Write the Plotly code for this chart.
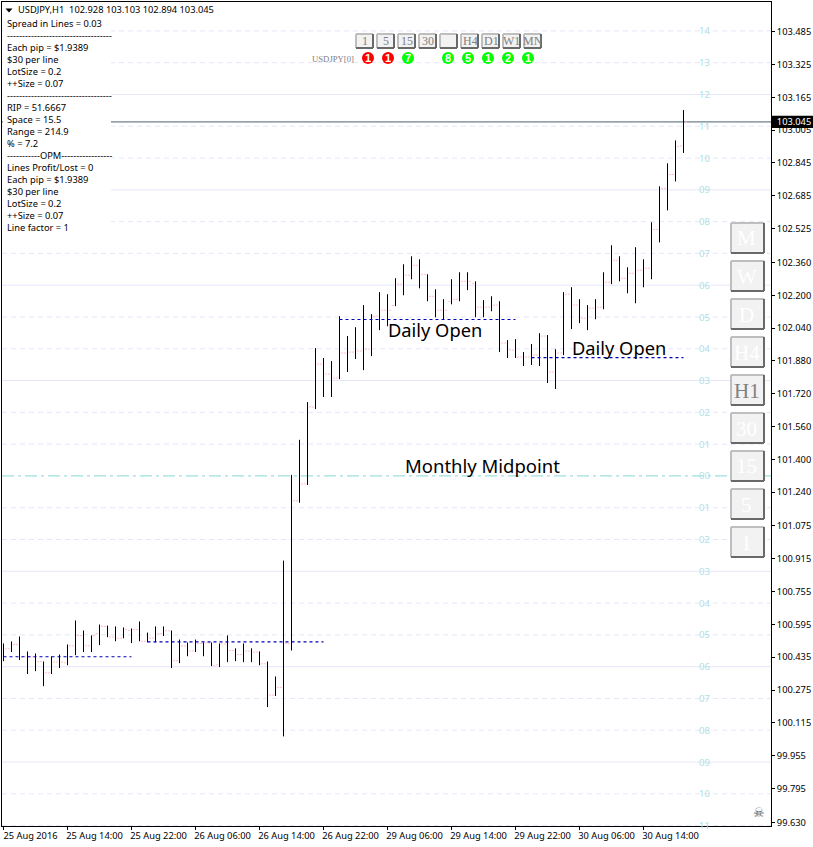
import plotly.graph_objects as go

SYMBOL = "USDJPY,H1"
opens = [100.440,100.476,100.497,100.437,100.437,100.414,100.359,100.411,100.408,100.491,
100.541,100.491,100.551,100.585,100.533,100.528,100.565,100.570,100.513,100.529,
100.549,100.564,100.418,100.491,100.466,100.502,100.505,100.398,100.500,100.468,
100.448,100.465,100.460,100.403,100.250,100.288,100.502,101.198,101.280,101.655,
101.864,101.816,101.796,101.918,101.923,101.928,101.937,102.098,102.127,102.150,
102.254,102.298,102.346,102.302,102.195,102.127,102.170,102.181,102.268,102.258,
102.142,102.142,102.152,101.967,101.933,101.899,101.899,101.908,102.001,101.826,
101.918,102.205,102.152,102.088,102.137,102.142,102.263,102.371,102.283,102.307,
102.322,102.332,102.521,102.721,102.789,102.928]
highs = [100.502,100.512,100.536,100.463,100.453,100.414,100.439,100.448,100.497,100.614,
100.565,100.541,100.594,100.589,100.585,100.580,100.575,100.609,100.555,100.585,
100.585,100.565,100.521,100.507,100.521,100.507,100.507,100.502,100.541,100.478,
100.502,100.478,100.463,100.414,100.341,100.906,101.324,101.495,101.679,101.942,
101.894,101.879,102.098,102.001,102.044,102.152,102.108,102.215,102.205,102.283,
102.351,102.390,102.375,102.302,102.229,102.181,102.278,102.312,102.312,102.268,
102.176,102.195,102.171,101.981,101.986,101.923,101.962,102.015,102.006,101.937,
102.215,102.239,102.181,102.152,102.181,102.312,102.444,102.390,102.336,102.434,
102.375,102.556,102.731,102.843,102.955,103.103]
lows = [100.416,100.460,100.421,100.353,100.367,100.294,100.353,100.382,100.396,100.445,
100.460,100.460,100.494,100.533,100.513,100.528,100.504,100.513,100.508,100.508,
100.538,100.382,100.406,100.440,100.460,100.440,100.392,100.387,100.411,100.416,
100.411,100.411,100.396,100.192,100.246,100.049,100.468,101.188,101.275,101.645,
101.704,101.704,101.791,101.826,101.889,101.835,101.903,102.030,102.049,102.147,
102.200,102.278,102.234,102.171,102.093,102.083,102.156,102.171,102.225,102.093,
102.093,102.122,101.923,101.894,101.894,101.855,101.860,101.855,101.772,101.743,
101.908,102.035,102.064,102.030,102.083,102.132,102.254,102.268,102.210,102.161,
102.239,102.278,102.458,102.614,102.755,102.894]
closes = [100.476,100.497,100.437,100.437,100.414,100.359,100.411,100.411,100.491,100.541,
100.491,100.541,100.585,100.533,100.528,100.570,100.570,100.513,100.529,100.549,
100.564,100.418,100.491,100.466,100.502,100.505,100.392,100.500,100.468,100.448,
100.465,100.460,100.403,100.250,100.288,100.502,101.198,101.280,101.655,101.864,
101.816,101.796,101.918,101.923,101.928,101.937,102.098,102.127,102.127,102.254,
102.298,102.346,102.302,102.195,102.127,102.127,102.181,102.268,102.268,102.142,
102.142,102.152,101.967,101.933,101.899,101.899,101.908,102.001,101.826,101.918,
102.205,102.152,102.088,102.137,102.142,102.263,102.371,102.283,102.307,102.322,
102.332,102.521,102.721,102.789,102.925,103.045]

x_tick_idx = [0, 8, 16, 24, 32, 40, 48, 56, 64, 72, 80]
x_tick_text = ["25 Aug 2016","25 Aug 14:00","25 Aug 22:00","26 Aug 06:00","26 Aug 14:00",
               "26 Aug 22:00","29 Aug 06:00","29 Aug 14:00","29 Aug 22:00","30 Aug 06:00","30 Aug 14:00"]
y_ticks = ["103.485","103.325","103.165","103.005","102.845","102.685","102.525","102.360",
           "102.200","102.040","101.880","101.720","101.560","101.400","101.240","101.075",
           "100.915","100.755","100.595","100.435","100.275","100.115","99.955","99.795","99.630"]
last_price_label = "103.045"

level_names = ["14","13","12","11","10","09","08","07","06","05","04","03","02","01","00",
               "01","02","03","04","05","06","07","08","09","10","11"]
level_prices = [103.489,103.334,103.179,103.024,102.869,102.714,102.559,102.404,102.249,102.094,
                101.939,101.784,101.629,101.474,101.319,101.164,101.009,100.854,100.699,100.544,
                100.389,100.234,100.079,99.924,99.769,99.614]
level_solid = ["12","09","06","03"]

open_idx_start = [0, 18, 42, 66]
open_idx_end = [16, 40, 64, 85]
open_prices = [100.437, 100.510, 102.082, 101.896]

info_lines = ["Spread in Lines = 0.03","-----------------------------------","Each pip = $1.9389","$30 per line",
              "LotSize = 0.2","++Size = 0.07","-----------------------------------","RIP = 51.6667","Space = 15.5",
              "Range = 214.9","% = 7.2","-----------OPM-----------------","Lines Profit/Lost = 0","Each pip = $1.9389",
              "$30 per line","LotSize = 0.2","++Size = 0.07","Line factor = 1"]
top_buttons = ["1","5","15","30","","H4","D1","W1","MN"]
signal_vals = ["1","1","7","","8","5","1","2","1"]
signal_cols = ["#FF0000","#FF0000","#00FF00","","#00FF00","#00FF00","#00FF00","#00FF00","#00FF00"]
side_buttons = ["M","W","D","H4","H1","30","15","5","1"]

W, H = 813, 847
L, R, T, B = 2, 771, 2, 826
PX_PER_BAR = 8
PRICE_TOP, PRICE_BOTTOM = 103.630, 99.612
UI = "Noto Sans"
SERIF = "Liberation Serif"

def X(p): return (p - L) / (R - L)
def Y(p): return (B - p) / (B - T)

xs = list(range(len(opens)))
fig = go.Figure()
fig.add_trace(go.Ohlc(x=xs, open=opens, high=highs, low=lows, close=closes, tickwidth=0.45,
                      increasing_line=dict(color="#FFC0CB", width=1, dash="2px,1px"),
                      decreasing_line=dict(color="#FFC0CB", width=1, dash="2px,1px"),
                      hoverinfo="skip", showlegend=False))
fig.add_trace(go.Ohlc(x=xs, open=opens, high=highs, low=lows, close=closes, tickwidth=0,
                      increasing_line=dict(color="#000000", width=1),
                      decreasing_line=dict(color="#000000", width=1),
                      hoverinfo="skip", showlegend=False))
for a, b, p in zip(open_idx_start, open_idx_end, open_prices):
    fig.add_trace(go.Scatter(x=[a, b], y=[p, p], mode="lines", hoverinfo="skip", showlegend=False,
                             line=dict(color="#0000B4", width=1.1, dash="3px,3px")))

shapes, ann = [], []
for name, p in zip(level_names, level_prices):
    if p == 101.319:
        st = dict(color="#9FE0E0", width=1.3, dash="12px,4px,3px,4px")
    elif name in level_solid:
        st = dict(color="#E6E6FA", width=1)
    else:
        st = dict(color="#E6E6FA", width=1, dash="5px,4px")
    shapes.append(dict(type="line", xref="paper", yref="y", x0=0, x1=1, y0=p, y1=p, line=st, layer="below"))
    ann.append(dict(xref="paper", yref="y", x=X(704), y=p, text=name, showarrow=False, xanchor="center",
                    yanchor="middle", font=dict(family=UI, size=9.5, color="#B0E0E6")))
shapes.append(dict(type="line", xref="paper", yref="y", x0=0, x1=1, y0=closes[-1], y1=closes[-1],
                   line=dict(color="#708090", width=1.2), layer="below"))
shapes.append(dict(type="rect", xref="paper", yref="paper", x0=X(L+1), x1=X(111), y0=Y(240), y1=Y(T+1),
                   fillcolor="white", line_width=0, layer="below"))
# black tag behind the last-price tick label
shapes.append(dict(type="rect", xref="paper", yref="y", x0=X(772), x1=X(813), y0=closes[-1] - 0.030,
                   y1=closes[-1] + 0.030, fillcolor="#000000", line_width=0, layer="below"))
# collapse triangle in the header
shapes.append(dict(type="path", xref="paper", yref="paper", layer="above", fillcolor="#000000", line_width=0,
                   path="M %f %f L %f %f L %f %f Z" % (X(5.5), Y(8.5), X(12.5), Y(8.5), X(9), Y(12.5))))

def text(px, py, s, size, color="#000000", family=UI, anchor="left", **kw):
    ann.append(dict(xref="paper", yref="paper", x=X(px), y=Y(py), text=s, showarrow=False, xanchor=anchor,
                    yanchor="middle", font=dict(family=family, size=size, color=color),
                    borderpad=0, **kw))

def button(x0, y0, x1, y1, bw):
    shapes.append(dict(type="rect", xref="paper", yref="paper", x0=X(x0), x1=X(x1), y0=Y(y1), y1=Y(y0),
                       fillcolor="#F2F2F2", line_width=0, layer="above"))
    for a, b, c, d, col in [(x0, y0, x1, y0, "#BEBEBE"), (x0, y0, x0, y1, "#BEBEBE"),
                            (x0, y1, x1, y1, "#696969"), (x1, y0, x1, y1, "#696969")]:
        shapes.append(dict(type="line", xref="paper", yref="paper", x0=X(a), x1=X(c), y0=Y(b), y1=Y(d),
                           line=dict(color=col, width=bw), layer="above"))

# header and info panel
text(17, 9, SYMBOL + "  102.928 103.103 102.894 103.045", 9.3)
for k, s in enumerate(info_lines):
    text(6, 23.5 + 12 * k, s, 9.3)

# top timeframe buttons and signals
text(355, 58.5, "USDJPY[0]", 8.7, color="#808080", family=SERIF, anchor="right")
for k, s in enumerate(top_buttons):
    x0 = 356 + 21 * k
    button(x0, 34, x0 + 17, 48, 2)
    if s:
        text(x0 + 9, 41, s, 12, color="#808080", family=SERIF, anchor="center")
    if signal_vals[k]:
        cx = 368 + 20 * k
        shapes.append(dict(type="circle", xref="paper", yref="paper", x0=X(cx - 6), x1=X(cx + 6),
                           y0=Y(64), y1=Y(52), fillcolor=signal_cols[k], line_width=0, layer="above"))
        text(cx, 58, "<b>%s</b>" % signal_vals[k], 11, color="#FFFFFF", family="Liberation Sans", anchor="center")

# side buttons
for k, s in enumerate(side_buttons):
    y0 = 223 + 38 * k
    button(731, y0, 764, y0 + 30, 2)
    text(746.5, y0 + 15.5, s, 21, color="#808080" if s == "H1" else "#FFFFFF", family=SERIF, anchor="center")

# chart labels
text(387, 329, "Daily Open", 18.3)
text(571, 347, "Daily Open", 18.3)
text(404, 465, "Monthly Midpoint", 18.5)
text(759, 812, "☠", 13, color="#555555", family="DejaVu Sans", anchor="center")

fig.update_layout(
    width=W, height=H, margin=dict(l=L, r=W - R, t=T, b=H - B, pad=0),
    paper_bgcolor="white", plot_bgcolor="white", showlegend=False,
    shapes=shapes, annotations=ann,
    xaxis=dict(range=[(L - 3.5) / PX_PER_BAR, (R - 3.5) / PX_PER_BAR], rangeslider=dict(visible=False),
               tickmode="array", tickvals=x_tick_idx, ticktext=x_tick_text, ticks="outside", ticklen=3,
               tickcolor="#000000", showgrid=False, zeroline=False, showline=True, linecolor="#000000",
               linewidth=1, mirror=True, ticklabelshift=27, ticklabelstandoff=-2, tickangle=0, automargin=False,
               tickfont=dict(family=UI, size=9.3, color="#000000")),
    yaxis=dict(range=[PRICE_BOTTOM, PRICE_TOP], side="right", tickmode="array",
               tickvals=[float(v) for v in y_ticks] + [closes[-1]],
               ticktext=y_ticks + ['<span style="color:#FFFFFF">%s</span>' % last_price_label],
               ticks="outside", ticklen=3,
               tickcolor="#000000", showgrid=False, zeroline=False, showline=True, linecolor="#000000",
               linewidth=1, mirror=True, automargin=False, tickfont=dict(family=UI, size=9.3, color="#000000")),
)
fig.write_html("out.html", config=dict(displayModeBar=False),
               post_script="document.body.style.margin='0';document.documentElement.style.overflow='hidden';")
